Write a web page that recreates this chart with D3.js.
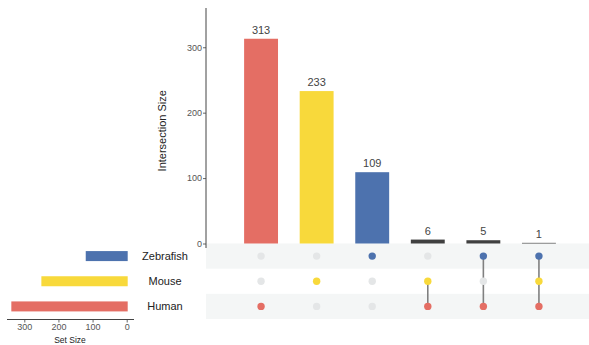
<!DOCTYPE html>
<html>
<head>
<meta charset="utf-8">
<script src="https://cdn.jsdelivr.net/npm/d3@7"></script>
<style>
  body { margin: 0; background: #fff; }
  svg text { font-family: "Liberation Sans", Arial, sans-serif; }
</style>
</head>
<body>
<div id="chart"></div>
<script>
// sets (top to bottom in matrix)
const SETS = ["Zebrafish", "Mouse", "Human"];
const SET_SIZES = [120, 250, 338];
const SET_COLORS = { Zebrafish: "#4d72ae", Mouse: "#f8d93b", Human: "#e46e64" };

// intersections, left to right
const INTER_MEMBERS = [["Human"], ["Mouse"], ["Zebrafish"], ["Mouse", "Human"], ["Zebrafish", "Human"], ["Zebrafish", "Mouse", "Human"]];
const INTER_SIZES = [313, 233, 109, 6, 5, 1];

const Y_TICKS = [0, 100, 200, 300];
const SIZE_TICKS = [0, 100, 200, 300];

const W = 589, H = 345;
const svg = d3.select("#chart").append("svg").attr("width", W).attr("height", H);

const inter = INTER_SIZES.map((v, i) => ({ i, size: v, sets: INTER_MEMBERS[i] }));

// scales
const x = d3.scaleBand().domain(inter.map(d => d.i)).range([233, 567]).paddingInner(0.39).paddingOuter(0.2);
const y = d3.scaleLinear().domain([0, 360]).range([243.5, 8]);
const row = d3.scaleBand().domain(SETS).range([243.5, 319]);
const sx = d3.scaleLinear().domain([0, 300]).range([126.7, 24.3]);

// row shading
svg.selectAll(".band")
  .data(SETS.filter((s, i) => i % 2 === 0))
  .enter().append("rect")
  .attr("x", 206).attr("width", W - 206)
  .attr("y", d => row(d)).attr("height", row.bandwidth())
  .attr("fill", "#f4f6f6");

// y axis
const yAxis = svg.append("g")
  .attr("transform", "translate(206,0)")
  .call(d3.axisLeft(y).tickValues(Y_TICKS).tickSize(3).tickSizeOuter(0));
yAxis.select(".domain").remove();
yAxis.selectAll("line").attr("stroke", "#666");
yAxis.selectAll("text").attr("fill", "#555").attr("font-size", "9px").attr("x", -4);
svg.append("line").attr("x1", 206).attr("x2", 206).attr("y1", 8).attr("y2", 248)
  .attr("stroke", "#444").attr("stroke-width", 1);

svg.append("text")
  .attr("transform", `translate(166,${(y.range()[0] + y.range()[1]) / 2 + 5}) rotate(-90)`)
  .attr("text-anchor", "middle").attr("font-size", "11px").attr("fill", "#222")
  .text("Intersection Size");

// intersection bars
const barColor = d => d.sets.length === 1 ? SET_COLORS[d.sets[0]] : "#404040";
svg.selectAll(".bar")
  .data(inter).enter().append("rect")
  .attr("x", d => x(d.i)).attr("width", x.bandwidth())
  .attr("y", d => y(d.size)).attr("height", d => y(0) - y(d.size))
  .attr("fill", barColor);

svg.selectAll(".bar-label")
  .data(inter).enter().append("text")
  .attr("x", d => x(d.i) + x.bandwidth() / 2)
  .attr("y", d => y(d.size) - 5)
  .attr("text-anchor", "middle").attr("font-size", "11px").attr("fill", "#444")
  .text(d => d.size);

// matrix
const cx = d => x(d.i) + x.bandwidth() / 2;
const cy = s => row(s) + row.bandwidth() / 2;

svg.selectAll(".conn")
  .data(inter.filter(d => d.sets.length > 1)).enter().append("line")
  .attr("x1", cx).attr("x2", cx)
  .attr("y1", d => d3.min(d.sets, cy)).attr("y2", d => d3.max(d.sets, cy))
  .attr("stroke", "#808080").attr("stroke-width", 1.6);

inter.forEach(d => {
  svg.selectAll(null)
    .data(SETS).enter().append("circle")
    .attr("cx", cx(d)).attr("cy", s => cy(s)).attr("r", 3.7)
    .attr("fill", s => d.sets.includes(s) ? SET_COLORS[s] : "#e4e6e7");
});

// set labels
svg.selectAll(".set-label")
  .data(SETS).enter().append("text")
  .attr("x", 165).attr("y", s => cy(s) + 4)
  .attr("text-anchor", "middle").attr("font-size", "11px").attr("fill", "#222")
  .text(s => s);

// set size bars
svg.selectAll(".set-bar")
  .data(SETS).enter().append("rect")
  .attr("x", (s, i) => sx(SET_SIZES[i])).attr("width", (s, i) => sx(0) - sx(SET_SIZES[i]) + 1)
  .attr("y", s => cy(s) - 5).attr("height", 10)
  .attr("fill", s => SET_COLORS[s]);

const sAxis = svg.append("g")
  .attr("transform", "translate(0,319.5)")
  .call(d3.axisBottom(sx).tickValues(SIZE_TICKS).tickSize(3).tickSizeOuter(0));
sAxis.select(".domain").remove();
sAxis.selectAll("line").attr("stroke", "#666");
sAxis.selectAll("text").attr("fill", "#555").attr("font-size", "9px").attr("y", 4);
svg.append("line").attr("x1", 7).attr("x2", 134).attr("y1", 319.5).attr("y2", 319.5)
  .attr("stroke", "#444").attr("stroke-width", 1);

svg.append("text")
  .attr("x", 70).attr("y", 343)
  .attr("text-anchor", "middle").attr("font-size", "8.5px").attr("fill", "#222")
  .text("Set Size");
</script>
</body>
</html>
